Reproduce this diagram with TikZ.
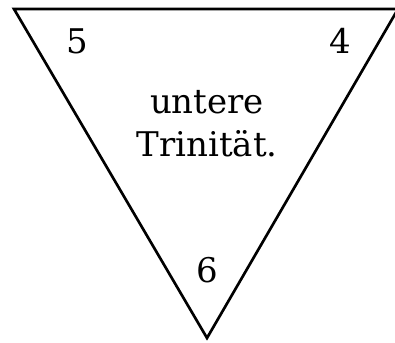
\documentclass[tikz,border=0pt]{standalone}
\usepackage{fontspec}
\setmainfont{DejaVu Serif}
\usepackage{tikz}
\usetikzlibrary{positioning}

\begin{document}
\begin{tikzpicture}[
    x=0.75pt, y=-0.75pt,
    every node/.style={font=\fontsize{25.5}{32}\selectfont},
  ]
  \useasboundingbox (0, 0) rectangle (395, 342);

  \coordinate (tl) at (14, 9);
  \coordinate (tr) at (398, 9);
  \coordinate (bt) at (207, 338);

  \draw[line width=2pt, line join=miter] (tl) -- (tr) -- (bt) -- cycle;

  \node (five) at (77, 41)  {5};
  \node (four) at (340, 41) {4};
  \node (six)  at (207, 270) {6};
  \node[align=center] (label) at (207, 124) {untere\\Trinität.};

\end{tikzpicture}
\end{document}
